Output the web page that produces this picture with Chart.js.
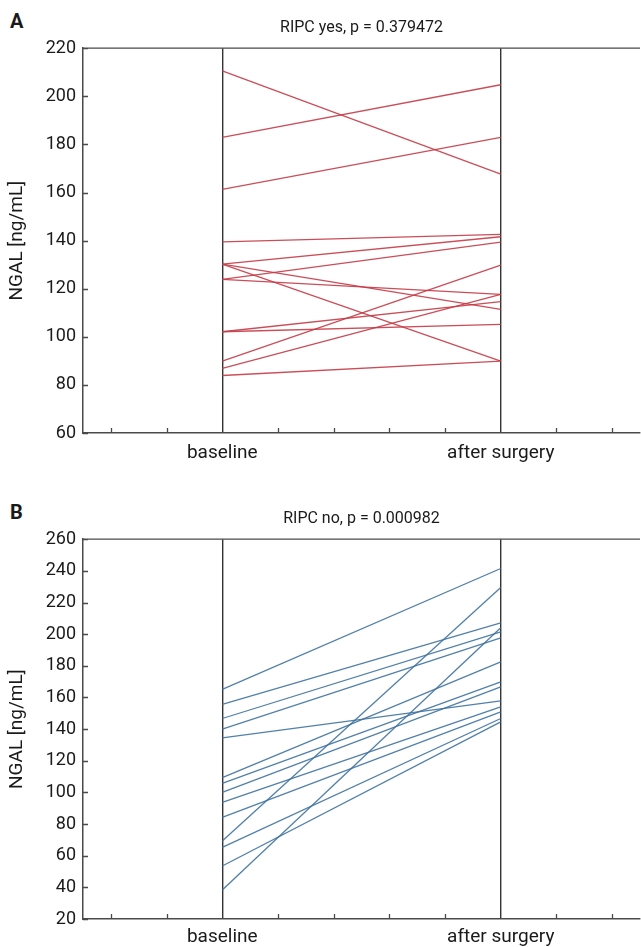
<!DOCTYPE html>
<html>
<head>
<meta charset="utf-8">
<script src="https://cdn.jsdelivr.net/npm/chart.js@4.4.1/dist/chart.umd.min.js"></script>
<style>
  body { margin: 0; background: #fff; width: 641px; height: 947px; position: relative; overflow: hidden; }
  canvas { position: absolute; left: 0; }
  .panel-tag { position: absolute; font: bold 20px Roboto, sans-serif; color: #1a1a1a; }
</style>
</head>
<body>
<div class="panel-tag" style="left:10px; top:9px;">A</div>
<div class="panel-tag" style="left:10px; top:500px;">B</div>
<canvas id="chartA" width="641" height="470" style="top:0"></canvas>
<canvas id="chartB" width="641" height="467" style="top:480px"></canvas>
<script>
// x slots: only two of them carry a time point, the rest are blank minor ticks
const slots = ['', '', 'baseline', '', '', '', '', 'after surgery', '', ''];

// Panel A - RIPC yes (one entry per patient)
const baselineA = [210.6, 182.9, 161.3, 139.5, 130.2, 130.2, 130.2, 123.9, 123.9, 102.1, 102.1, 89.9, 86.9, 83.9];
const afterA    = [167.6, 204.8, 182.9, 142.6, 141.6, 111.4, 89.9, 139.4, 117.6, 105.2, 114.6, 129.8, 117.6, 89.9];

// Panel B - RIPC no
const baselineB = [165.1, 155.6, 146.7, 140.0, 134.5, 109.3, 105.7, 100.0, 93.7, 84.2, 69.3, 65.3, 53.5, 38.3];
const afterB    = [241.5, 207.2, 201.5, 197.7, 157.9, 182.5, 169.9, 166.7, 154.1, 150.9, 229.5, 146.7, 144.6, 204.0];

const FONT = 'Roboto, sans-serif';
const AXIS = '#4a4a4a';

// top border plus inward tick marks like the original figure
const framePlugin = {
    id: 'frame',
    afterDraw(chart) {
        const { ctx, chartArea: a, scales: { x, y } } = chart;
        ctx.save();
        ctx.strokeStyle = AXIS;
        ctx.lineWidth = 1.3;
        ctx.beginPath();
        ctx.moveTo(a.left, a.top);
        ctx.lineTo(a.right, a.top);
        y.ticks.forEach(t => {
            const py = Math.round(y.getPixelForValue(t.value)) + 0.5;
            ctx.moveTo(a.left, py);
            ctx.lineTo(a.left + 5, py);
        });
        x.ticks.forEach((t, i) => {
            if (slots[i]) return;
            const px = Math.round(x.getPixelForTick(i)) + 0.5;
            ctx.moveTo(px, a.bottom);
            ctx.lineTo(px, a.bottom - 5);
        });
        ctx.stroke();
        ctx.restore();
    }
};

function makeDatasets(before, after, color) {
    return before.map((b, i) => ({
        data: [{ x: 'baseline', y: b }, { x: 'after surgery', y: after[i] }],
        borderColor: color,
        borderWidth: 1.3,
        pointRadius: 0,
        fill: false,
        tension: 0
    }));
}

function makeChart(id, title, titlePad, datasets, yMin, yMax, xHeight, xPad) {
    return new Chart(document.getElementById(id), {
        type: 'line',
        data: { labels: slots, datasets: datasets },
        plugins: [framePlugin],
        options: {
            responsive: false,
            animation: false,
            layout: { padding: { left: 0, right: 1, top: 0, bottom: 0 } },
            plugins: {
                legend: { display: false },
                tooltip: { enabled: false },
                title: {
                    display: true,
                    fullSize: false,
                    text: title,
                    color: '#1a1a1a',
                    font: { family: FONT, size: 16, weight: 'normal' },
                    padding: titlePad
                }
            },
            scales: {
                x: {
                    type: 'category',
                    offset: true,
                    afterFit: s => { s.height = xHeight; },
                    grid: {
                        offset: false,
                        drawTicks: false,
                        lineWidth: 1.4,
                        color: c => (slots[c.index] ? '#333' : 'rgba(0,0,0,0)')
                    },
                    border: { display: true, color: AXIS, width: 1.5 },
                    ticks: {
                        autoSkip: false,
                        maxRotation: 0,
                        padding: xPad,
                        color: '#1a1a1a',
                        font: { family: FONT, size: 19 },
                        callback: (v, i) => slots[i]
                    }
                },
                y: {
                    min: yMin,
                    max: yMax,
                    afterFit: s => { s.width = 83; },
                    grid: { display: false, drawTicks: false },
                    border: { display: true, color: AXIS, width: 1.5 },
                    ticks: {
                        stepSize: 20,
                        padding: 7,
                        color: '#1a1a1a',
                        font: { family: FONT, size: 18 }
                    },
                    title: {
                        display: true,
                        text: 'NGAL [ng/mL]',
                        color: '#1a1a1a',
                        font: { family: FONT, size: 19 },
                        padding: { top: 6, bottom: 0 }
                    }
                }
            }
        }
    });
}

makeChart('chartA', 'RIPC yes, p = 0.379472', { top: 18, bottom: 11 },
    makeDatasets(baselineA, afterA, 'rgba(196, 58, 70, 0.9)'), 60, 220, 37, 9);
makeChart('chartB', 'RIPC no, p = 0.000982', { top: 29, bottom: 11 },
    makeDatasets(baselineB, afterB, 'rgba(62, 114, 158, 0.9)'), 20, 260, 28, 7);
</script>
</body>
</html>
